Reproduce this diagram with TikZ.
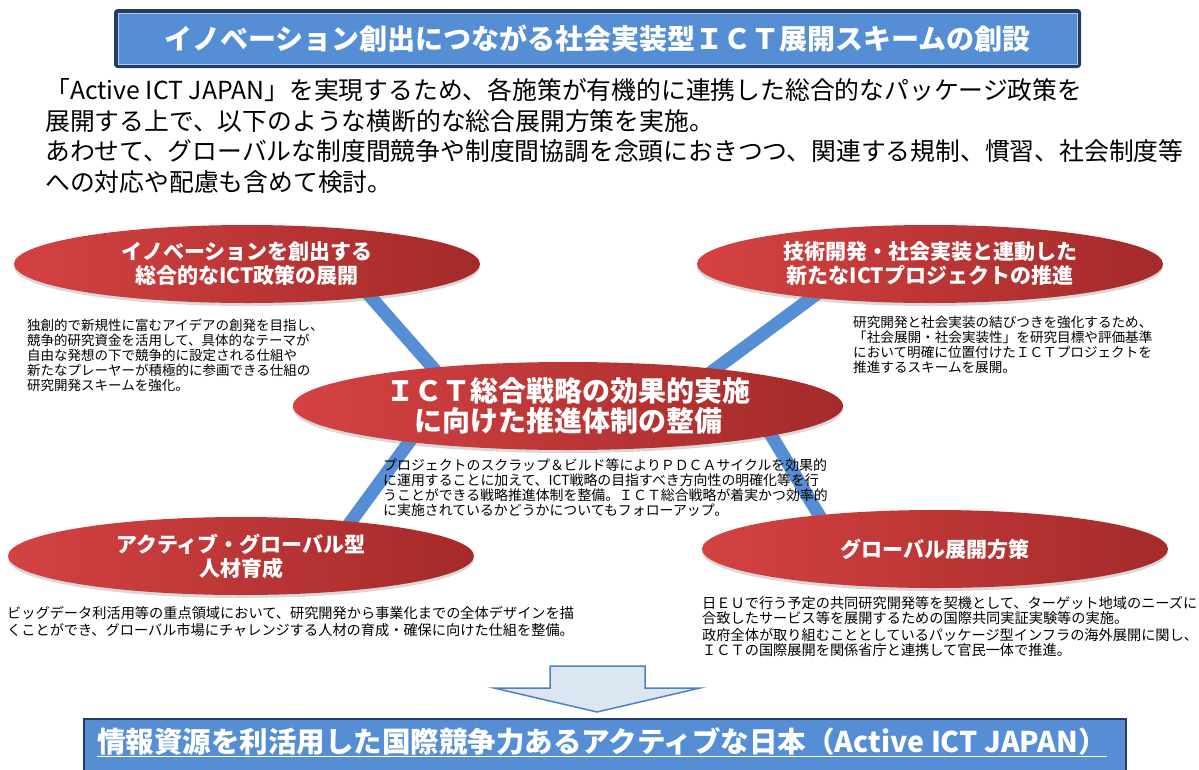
\documentclass[tikz,border=0pt]{standalone}
\usepackage{fontspec}
\setmainfont{Noto Sans CJK JP}
\usepackage{tikz}
\usetikzlibrary{shapes.geometric}
\usetikzlibrary{shadows}
\usepackage{xcolor}

\definecolor{panelblue}{RGB}{85,142,213}
\definecolor{framenavy}{RGB}{36,60,100}
\definecolor{ovalred}{RGB}{212,66,66}
\definecolor{ovaldark}{RGB}{165,42,42}
\definecolor{arrowfill}{RGB}{220,230,242}
\definecolor{arrowline}{RGB}{79,129,189}

\begin{document}
\begin{tikzpicture}[
        x=1pt, y=-1pt,
        redoval/.style={
        ellipse, minimum width=466pt, minimum height=78pt, inner sep=0pt,
        left color=ovalred, right color=ovaldark, text=white, align=center,
        font=\bfseries\fontsize{21}{24}\selectfont,
        drop shadow={opacity=0.3, shadow xshift=0pt, shadow yshift=-3pt}
        },
        desc/.style={
        anchor=west, align=left, inner sep=0pt, font=\fontsize{13.7}{15}\selectfont
        },
        crossline/.style={panelblue, line width=13pt},
        banner/.style={
        draw=framenavy, fill=panelblue, inner sep=0pt, text=white
        }
        ]
        \useasboundingbox[fill=white] (0,0) rectangle (1199,769);

        \node[banner, line width=4pt, rounded corners=2pt, minimum width=963pt, minimum height=55pt,
            font=\bfseries\fontsize{28}{30}\selectfont] (title) at (597.5,38.5)
            {イノベーション創出につながる社会実装型ＩＣＴ展開スキームの創設};
        \draw[white!55!panelblue, line width=0.8pt]
            ([xshift=4pt,yshift=-4pt]title.north west) rectangle ([xshift=-4pt,yshift=4pt]title.south east);

        \node[anchor=west, align=left, inner sep=0pt, font=\fontsize{24.8}{30.5}\selectfont] (intro) at (45,136)
            {「Active ICT JAPAN」を実現するため、各施策が有機的に連携した総合的なパッケージ政策を\\
            展開する上で、以下のような横断的な総合展開方策を実施。\\
            あわせて、グローバルな制度間競争や制度間協調を念頭におきつつ、関連する規制、慣習、社会制度等\\
            への対応や配慮も含めて検討。};

        \coordinate (hubul) at (470,410);
        \coordinate (hubur) at (660,410);
        \coordinate (hubll) at (440,400);
        \coordinate (hublr) at (750,400);
        \coordinate (endul) at (340,262);
        \coordinate (endur) at (860,262);
        \coordinate (endll) at (330,550);
        \coordinate (endlr) at (840,550);
        \draw[crossline] (endul) -- (hubul);
        \draw[crossline] (endur) -- (hubur);
        \draw[crossline] (endll) -- (hubll);
        \draw[crossline] (endlr) -- (hublr);

        \node[redoval] (innov) at (247,264) {イノベーションを創出する\\総合的なICT政策の展開};
        \node[redoval] (tech) at (930,264) {技術開発・社会実装と連動した\\新たなICTプロジェクトの推進};
        \node[redoval, minimum width=550pt, minimum height=88pt,
            font=\bfseries\fontsize{28}{30}\selectfont] (strat) at (568,406)
            {ＩＣＴ総合戦略の効果的実施\\に向けた推進体制の整備};
        \node[redoval] (human) at (241,556) {アクティブ・グローバル型\\人材育成};
        \node[redoval] (global) at (935,549) {グローバル展開方策};

        \node[desc, font=\fontsize{13.5}{15}\selectfont] (innovtext) at (27,355)
            {独創的で新規性に富むアイデアの創発を目指し、\\
            競争的研究資金を活用して、具体的なテーマが\\
            自由な発想の下で競争的に設定される仕組や\\
            新たなプレーヤーが積極的に参画できる仕組の\\
            研究開発スキームを強化。};
        \node[desc, font=\fontsize{13.6}{15}\selectfont] (techtext) at (853,344.5)
            {研究開発と社会実装の結びつきを強化するため、\\
            「社会展開・社会実装性」を研究目標や評価基準\\
            において明確に位置付けたＩＣＴプロジェクトを\\
            推進するスキームを展開。};
        \node[desc, font=\fontsize{13.9}{15}\selectfont] (strattext) at (383,487.5)
            {プロジェクトのスクラップ＆ビルド等によりＰＤＣＡサイクルを効果的\\
            に運用することに加えて、ICT戦略の目指すべき方向性の明確化等を行\\
            うことができる戦略推進体制を整備。ＩＣＴ総合戦略が着実かつ効率的\\
            に実施されているかどうかについてもフォローアップ。};
        \node[desc, font=\fontsize{14.2}{17}\selectfont] (humantext) at (7,621.5)
            {ビッグデータ利活用等の重点領域において、研究開発から事業化までの全体デザインを描\\
            くことができ、グローバル市場にチャレンジする人材の育成・確保に向けた仕組を整備。};
        \node[desc, font=\fontsize{14.2}{15}\selectfont] (globaltext) at (702,627)
            {日ＥＵで行う予定の共同研究開発等を契機として、ターゲット地域のニーズに\\
            合致したサービス等を展開するための国際共同実証実験等の実施。\\[2pt]
            政府全体が取り組むこととしているパッケージ型インフラの海外展開に関し、\\
            ＩＣＴの国際展開を関係省庁と連携して官民一体で推進。};

        \filldraw[fill=arrowfill, draw=arrowline, line width=1.5pt]
            (550,666) -- (645,666) -- (645,688) -- (700,688) -- (597,712)
            -- (494,688) -- (550,688) -- cycle;

        \node[banner, line width=2pt, minimum width=1042pt, minimum height=62pt] (goalbar) at (605,750) {};
        \node[text=white, inner sep=0pt, font=\bfseries\fontsize{28.5}{30}\selectfont] (goal) at (602,742)
            {\underline{情報資源を利活用した国際競争力あるアクティブな日本（Active ICT JAPAN）}};
    \end{tikzpicture}
\end{document}
